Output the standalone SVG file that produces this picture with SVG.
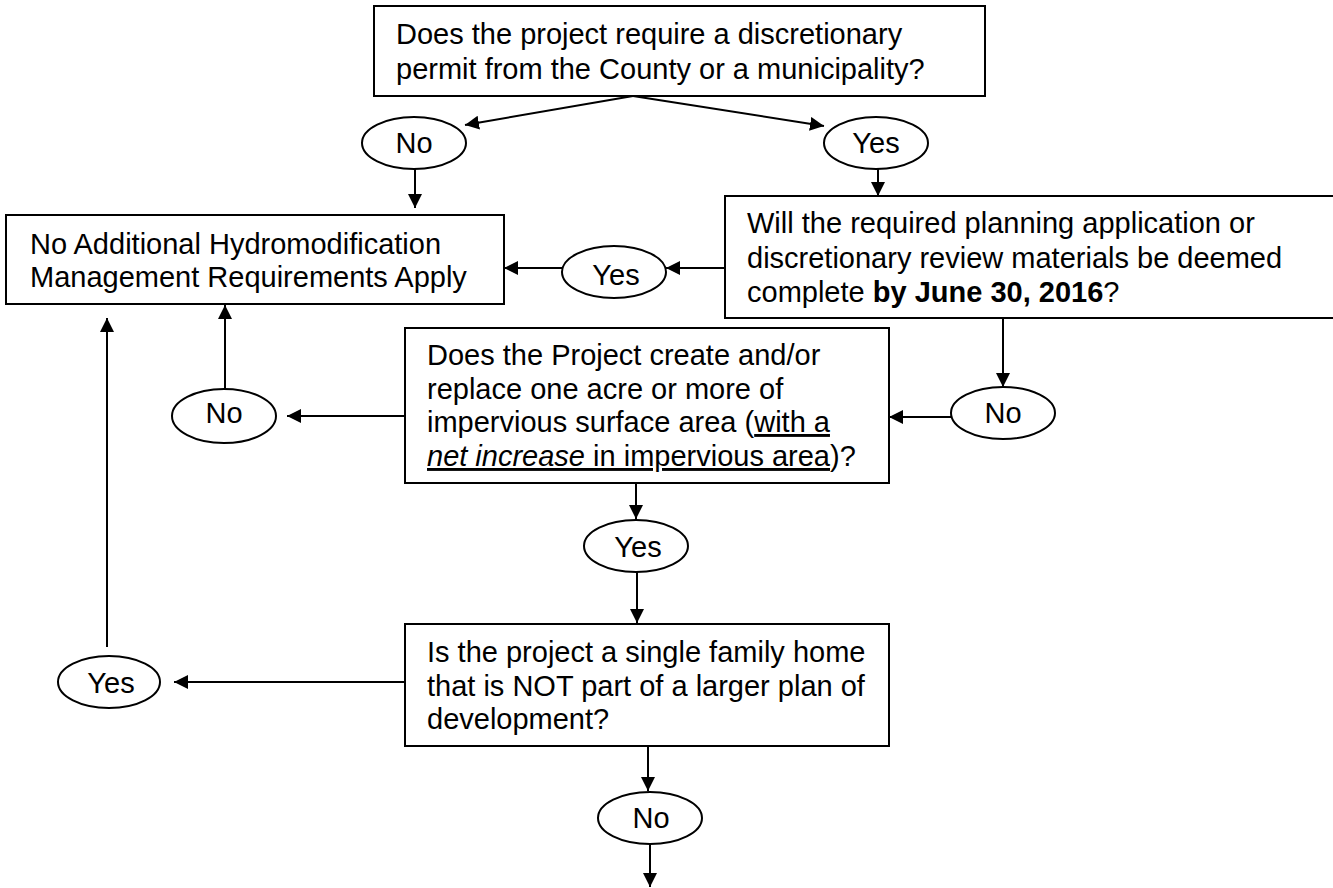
<svg xmlns="http://www.w3.org/2000/svg" width="1333" height="888" viewBox="0 0 1333 888">
<style>
.box{fill:#fff;stroke:#000;stroke-width:2}
.ell{fill:#fff;stroke:#000;stroke-width:2}
.t{font-family:"Liberation Sans",Arial,sans-serif;font-size:29px;fill:#000}
.c{text-anchor:middle}
.ln{stroke:#000;stroke-width:2;fill:none;marker-end:url(#ah)}
</style>
<defs>
<marker id="ah" viewBox="0 0 14 14" refX="14" refY="7" markerWidth="14" markerHeight="14" markerUnits="userSpaceOnUse" orient="auto">
<path d="M0,0 L14,7 L0,14 z" fill="#000"/>
</marker>
</defs>
<rect width="1333" height="888" fill="#fff"/>
<g id="connectors">
<path class="ln" d="M633,96 L465,125"/>
<path class="ln" d="M633,96 L824,126"/>
<path class="ln" d="M415,169 L415,208"/>
<path class="ln" d="M878,169 L878,196"/>
<path class="ln" d="M725,268 L666,268"/>
<path class="ln" d="M563,268 L504,268"/>
<path class="ln" d="M1003,318 L1003,387"/>
<path class="ln" d="M951,417 L889,417"/>
<path class="ln" d="M405,416 L287,416"/>
<path class="ln" d="M225,389 L225,305"/>
<path class="ln" d="M636,483 L636,519"/>
<path class="ln" d="M637,572 L637,623"/>
<path class="ln" d="M405,682 L174,682"/>
<path class="ln" d="M107,647 L107,318"/>
<path class="ln" d="M648,746 L648,791"/>
<path class="ln" d="M650,844 L650,887"/>
</g>
<g id="q1">
<rect class="box" x="374" y="6" width="611" height="90"/>
<text class="t" x="396" y="44">Does the project require a discretionary</text>
<text class="t" x="396" y="79">permit from the County or a municipality?</text>
</g>
<g id="no1">
<ellipse class="ell" cx="414" cy="143" rx="52" ry="26"/>
<text class="t c" x="414" y="153">No</text>
</g>
<g id="yes1">
<ellipse class="ell" cx="876" cy="143" rx="52" ry="26"/>
<text class="t c" x="876" y="153">Yes</text>
</g>
<g id="result">
<rect class="box" x="6" y="215" width="498" height="89"/>
<text class="t" x="30" y="254">No Additional Hydromodification</text>
<text class="t" x="30" y="287">Management Requirements Apply</text>
</g>
<g id="yes2">
<ellipse class="ell" cx="614" cy="272" rx="52" ry="26"/>
<text class="t c" x="616" y="285">Yes</text>
</g>
<g id="q2">
<rect class="box" x="725" y="196" width="615" height="122"/>
<text class="t" x="747" y="233">Will the required planning application or</text>
<text class="t" x="747" y="268">discretionary review materials be deemed</text>
<text class="t" x="747" y="302">complete <tspan font-weight="bold">by June 30, 2016</tspan>?</text>
</g>
<g id="no2">
<ellipse class="ell" cx="1003" cy="413" rx="52" ry="26"/>
<text class="t c" x="1003" y="423">No</text>
</g>
<g id="q3">
<rect class="box" x="405" y="328" width="484" height="155"/>
<text class="t" x="427" y="365">Does the Project create and/or</text>
<text class="t" x="427" y="399">replace one acre or more of</text>
<text class="t" x="427" y="432">impervious surface area (<tspan text-decoration="underline">with a</tspan></text>
<text class="t" x="427" y="466"><tspan text-decoration="underline" font-style="italic">net increase</tspan><tspan text-decoration="underline"> in impervious area</tspan>)?</text>
</g>
<g id="no3">
<ellipse class="ell" cx="224" cy="416" rx="52" ry="27"/>
<text class="t c" x="224" y="423">No</text>
</g>
<g id="yes3">
<ellipse class="ell" cx="636" cy="546" rx="52" ry="26"/>
<text class="t c" x="638" y="557">Yes</text>
</g>
<g id="q4">
<rect class="box" x="405" y="624" width="484" height="122"/>
<text class="t" x="427" y="662">Is the project a single family home</text>
<text class="t" x="427" y="696">that is NOT part of a larger plan of</text>
<text class="t" x="427" y="729">development?</text>
</g>
<g id="yes4">
<ellipse class="ell" cx="109" cy="682" rx="51" ry="26"/>
<text class="t c" x="111" y="693">Yes</text>
</g>
<g id="no4">
<ellipse class="ell" cx="650" cy="818" rx="52" ry="26"/>
<text class="t c" x="651" y="828">No</text>
</g>
</svg>
